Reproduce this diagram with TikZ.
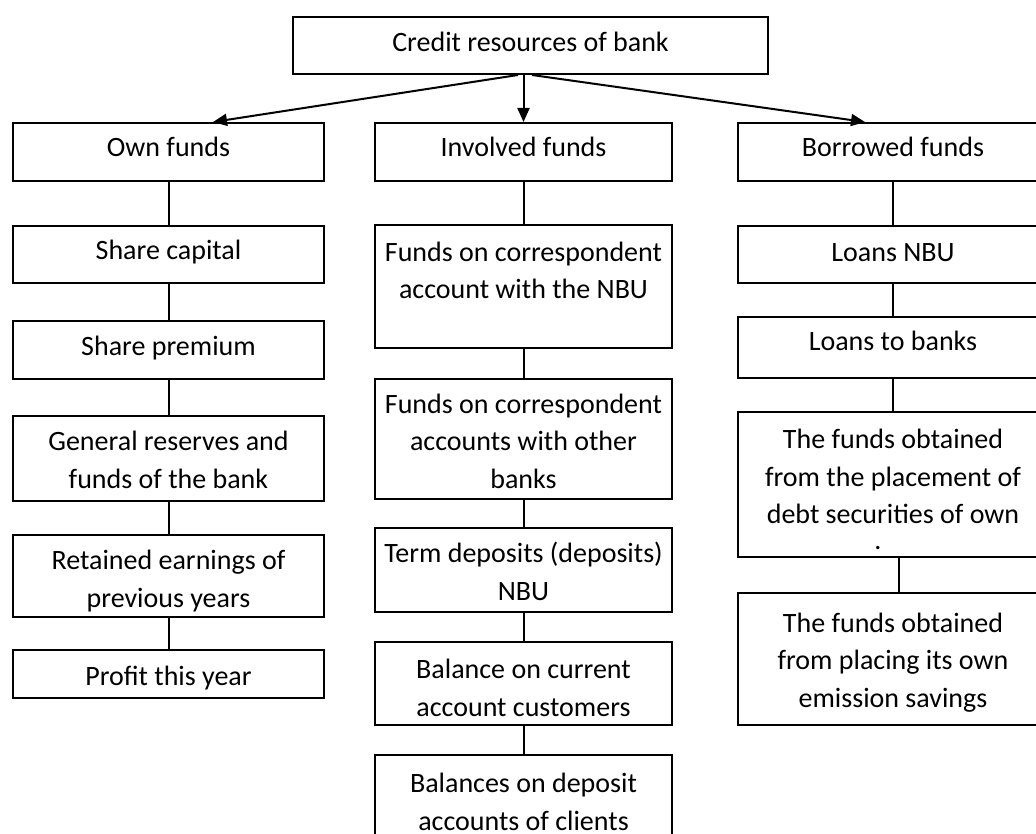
\documentclass[tikz,border=0pt]{standalone}
\usepackage{fontspec}
\setmainfont{Carlito}
\usetikzlibrary{arrows.meta}

\tikzset{
  box/.style={draw, line width=2pt, rectangle, inner sep=0pt},
  boxtext/.style={anchor=base, align=center, inner sep=0pt,
                  font=\fontsize{28}{37.5}\selectfont},
  link/.style={line width=2pt},
  feed/.style={line width=2pt, -{Triangle[length=14pt,width=12pt]}},
}

% \chartbox{name}{x1}{y1}{x2}{y2}{baseline of last line}{text}
% draws a framed box and its text, the text clipped to the frame
\newcommand\chartbox[7]{%
  \node[box, minimum width={(#4-#2)*1pt}, minimum height={(#5-#3)*1pt}]
       (#1) at ({(#2+#4)/2},{(#3+#5)/2}) {};
  \begin{scope}
    \clip (#2,#3) rectangle (#4,#5);
    \node[boxtext] (#1-t) at ({(#2+#4)/2},#6) {#7};
  \end{scope}}

\begin{document}
\begin{tikzpicture}[x=1pt, y=-1pt]
\useasboundingbox (0,0) rectangle (1036,834);

% root
\chartbox{top}{293}{17}{768}{74}{52}{Credit resources of bank}

% own funds column
\chartbox{own}{13}{123}{324}{181}{157}{Own funds}
\chartbox{sharecap}{13}{226}{324}{283}{260}{Share capital}
\chartbox{premium}{13}{321}{324}{379}{355}{Share premium}
\chartbox{reserves}{13}{416}{324}{501}{488}{General reserves and\\funds of the bank}
\chartbox{retained}{13}{535}{324}{617}{607}{Retained earnings of\\previous years}
\chartbox{profit}{13}{650}{324}{698}{685}{Profit this year}

% involved funds column
\chartbox{involved}{375}{123}{672}{181}{157}{Involved funds}
\chartbox{corrnbu}{375}{225}{672}{348}{299}{Funds on correspondent\\account with the NBU}
\chartbox{corrother}{375}{379}{672}{499}{488}{Funds on correspondent\\accounts with other\\banks}
\chartbox{term}{375}{528}{672}{612}{600}{Term deposits (deposits)\\NBU}
\chartbox{current}{375}{642}{672}{725}{716}{Balance on current\\account customers}
\chartbox{deposit}{375}{755}{672}{850}{830}{Balances on deposit\\accounts of clients}

% borrowed funds column
\chartbox{borrowed}{738}{123}{1048}{181}{157}{Borrowed funds}
\chartbox{loansnbu}{738}{226}{1048}{283}{262}{Loans NBU}
\chartbox{loansbanks}{738}{317}{1048}{378}{350}{Loans to banks}
\chartbox{debt}{738}{412}{1048}{557}{549}{The funds obtained\\from the placement of\\debt securities of own\\[-12pt]\hspace*{-30pt}.}
\chartbox{emission}{738}{593}{1048}{725}{707}{The funds obtained\\from placing its own\\emission savings}

% arrows from the root
\draw[feed] ([xshift=-12.5pt]top.south) -- ([xshift=44.5pt]own.north);
\draw[feed] ([xshift=-7pt]top.south) -- (involved.north);
\draw[feed] ([xshift=1.5pt]top.south) -- ([xshift=-28pt]borrowed.north);

% column links
\draw[link] (own) -- (sharecap) (sharecap) -- (premium) (premium) -- (reserves)
            (reserves) -- (retained) (retained) -- (profit);
\draw[link] (involved) -- (corrnbu) (corrnbu) -- (corrother) (corrother) -- (term)
            (term) -- (current) (current) -- (deposit);
\draw[link] (borrowed) -- (loansnbu) (loansnbu) -- (loansbanks) (loansbanks) -- (debt);
\draw[link] ([xshift=6pt]debt.south) -- ([xshift=6pt]emission.north);
\end{tikzpicture}
\end{document}
